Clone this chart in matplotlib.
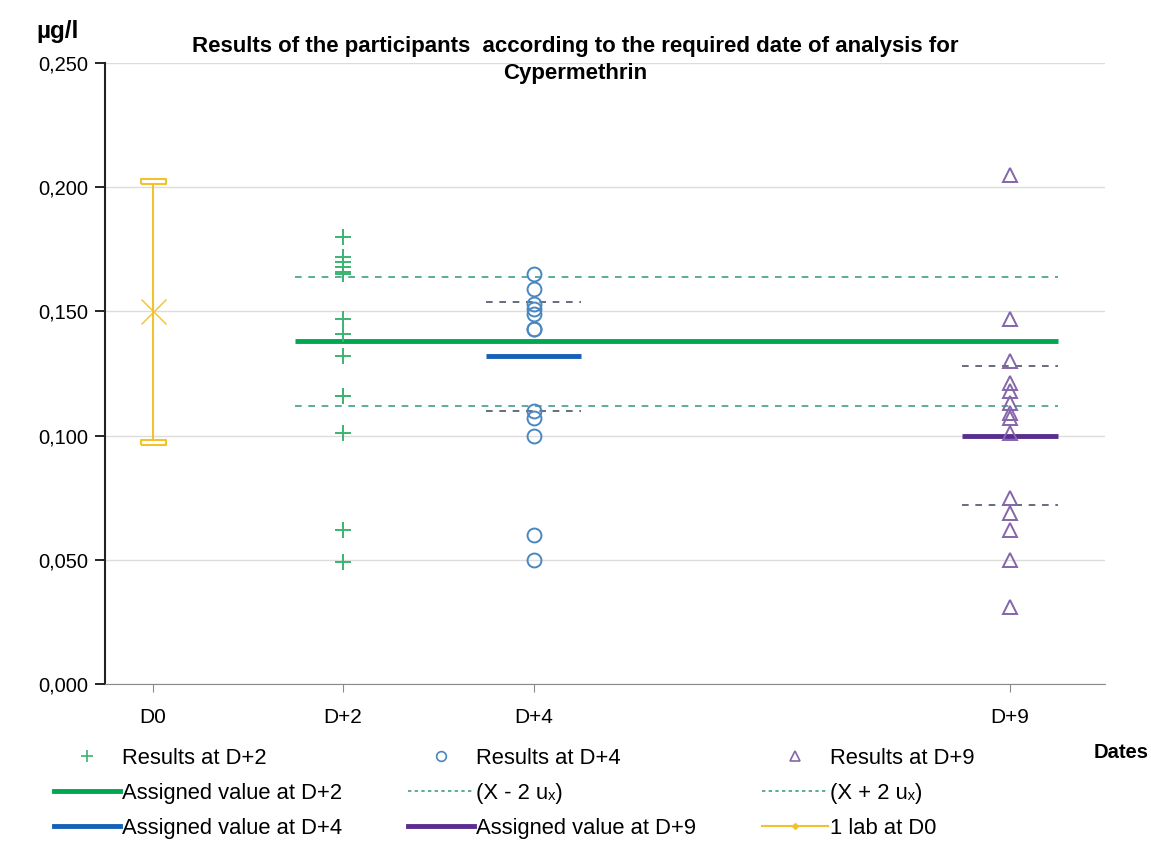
import numpy as np
import matplotlib
matplotlib.use("Agg")
import matplotlib.pyplot as plt
from matplotlib.lines import Line2D
from matplotlib.ticker import FuncFormatter

plt.rcParams['font.family'] = ['Liberation Sans', 'DejaVu Sans']

# data (days after reference date, ug/l)
day_ticks = [0, 2, 4, 9]
day_labels = ["D0", "D+2", "D+4", "D+9"]

res_d2 = [0.180, 0.172, 0.170, 0.168, 0.166, 0.165, 0.147, 0.141, 0.132,
          0.116, 0.116, 0.101, 0.062, 0.049]
res_d4 = [0.165, 0.159, 0.153, 0.151, 0.149, 0.143, 0.143, 0.110, 0.107,
          0.100, 0.060, 0.050]
res_d9 = [0.205, 0.147, 0.130, 0.121, 0.118, 0.113, 0.109, 0.107, 0.101,
          0.075, 0.069, 0.062, 0.050, 0.031]

# assigned value, +/- 2u limits and x span of the lines
assigned_d2 = 0.138
limits_d2 = (0.112, 0.164)
span_d2 = (1.5, 9.5)
assigned_d4 = 0.132
limits_d4 = (0.110, 0.154)
span_d4 = (3.5, 4.5)
assigned_d9 = 0.100
limits_d9 = (0.072, 0.128)
span_d9 = (8.5, 9.5)

lab_d0 = 0.150
lab_d0_low = 0.0975
lab_d0_high = 0.2026

c_green = "#00a651"
c_green_pt = "#3cb371"
c_blue = "#1560b8"
c_blue_pt = "#4a86c0"
c_purple = "#5a2d91"
c_purple_pt = "#8466aa"
c_teal = "#3e9e88"
c_dark = "#4d5466"
c_yellow = "#f2c12e"

fig = plt.figure(figsize=(11.51, 8.41), dpi=100)
ax = fig.add_axes([0.0912, 0.1867, 0.869, 0.7383])

ax.set_xlim(-0.5, 10.0)
ax.set_ylim(0, 0.25)
ax.set_yticks(np.arange(0, 0.2501, 0.05))
ax.yaxis.set_major_formatter(FuncFormatter(lambda v, p: f"{v:.3f}".replace(".", ",")))
ax.set_xticks(day_ticks)
ax.set_xticklabels(day_labels)
ax.grid(axis='y', color="#dcdcdc", linewidth=1)
ax.set_axisbelow(True)
for s in ["top", "right"]:
    ax.spines[s].set_visible(False)
ax.spines["left"].set_color("#222222")
ax.spines["left"].set_linewidth(1.5)
ax.spines["bottom"].set_color("#8a8a8a")
ax.tick_params(axis='y', length=7, width=1.2, labelsize=14.5, pad=5)
ax.tick_params(axis='x', length=6, color="#8a8a8a", labelsize=15, pad=11)

# assigned values and limits
ax.hlines(assigned_d2, *span_d2, color=c_green, linewidth=3.5, zorder=3)
ax.hlines(limits_d2, *span_d2, color=c_teal, linewidth=1.2, linestyles=(0, (4, 4)), zorder=3)
ax.hlines(assigned_d4, *span_d4, color=c_blue, linewidth=3.5, zorder=3)
ax.hlines(limits_d4, *span_d4, color=c_dark, linewidth=1.2, linestyles=(0, (4, 4)), zorder=3)
ax.hlines(assigned_d9, *span_d9, color=c_purple, linewidth=3.5, zorder=3)
ax.hlines(limits_d9, *span_d9, color=c_dark, linewidth=1.2, linestyles=(0, (4, 4)), zorder=3)

# participant results
ax.plot([2] * len(res_d2), res_d2, '+', color=c_green_pt, markersize=11, mew=1.4, zorder=4)
ax.plot([4] * len(res_d4), res_d4, 'o', mfc='none', mec=c_blue_pt, markersize=10, mew=1.4, zorder=4)
ax.plot([9] * len(res_d9), res_d9, '^', mfc='none', mec=c_purple_pt, markersize=10, mew=1.4, zorder=4)

# one lab at D0
ax.vlines(0, lab_d0_low, lab_d0_high, color=c_yellow, linewidth=1.5, zorder=3)
cap = [(-1, -0.2), (1, -0.2), (1, 0.2), (-1, 0.2), (-1, -0.2)]
ax.plot([0, 0], [lab_d0_low, lab_d0_high], linestyle='none', marker=cap, markersize=18,
        mfc='white', mec=c_yellow, mew=1.5, zorder=4)
ax.plot([0], [lab_d0], 'x', color=c_yellow, markersize=18, mew=1.0, zorder=4)

fig.text(0.5, 0.929, "Results of the participants  according to the required date of analysis for\nCypermethrin",
         ha='center', va='center', fontsize=16, fontweight='bold', linespacing=1.4)
fig.text(0.032, 0.962, "µg/l", ha='left', va='center', fontsize=17.5, fontweight='bold')
fig.text(0.950, 0.105, "Dates", ha='left', va='center', fontsize=14.5, fontweight='bold')

h = [
    (Line2D([], [], linestyle='none', marker='+', color=c_green_pt, markersize=9, mew=1.2), "Results at D+2"),
    (Line2D([], [], color=c_green, linewidth=3.5), "Assigned value at D+2"),
    (Line2D([], [], color=c_blue, linewidth=3.5), "Assigned value at D+4"),
    (Line2D([], [], linestyle='none', marker='o', mfc='none', mec=c_blue_pt, markersize=7, mew=1.2), "Results at D+4"),
    (Line2D([], [], color=c_teal, linewidth=1.2, linestyle=(0, (2, 2))), "(X - 2 u\u2093)"),
    (Line2D([], [], color=c_purple, linewidth=3.5), "Assigned value at D+9"),
    (Line2D([], [], linestyle='none', marker='^', mfc='none', mec=c_purple_pt, markersize=7, mew=1.2), "Results at D+9"),
    (Line2D([], [], color=c_teal, linewidth=1.2, linestyle=(0, (2, 2))), "(X + 2 u\u2093)"),
    (Line2D([], [], color=c_yellow, linewidth=1.5, marker='D', markersize=3), "1 lab at D0"),
]
fig.legend([a for a, b in h], [b for a, b in h], ncol=3, loc='upper left',
           bbox_to_anchor=(0.047, 0.111), frameon=False, fontsize=15.8,
           handlelength=3.0, handletextpad=0.1, columnspacing=3.0,
           labelspacing=0.64, borderpad=0, borderaxespad=0)

fig.savefig("out.png", dpi=100)
